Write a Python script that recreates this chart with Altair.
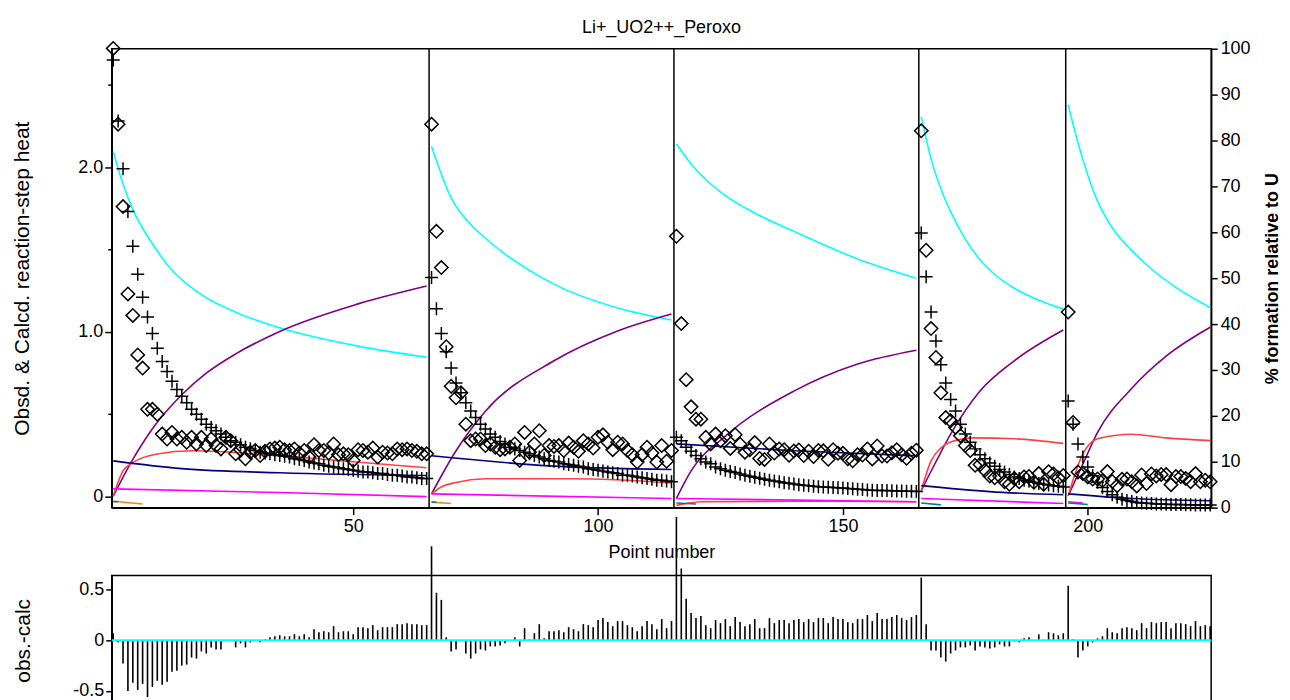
import altair as alt
import pandas as pd

FONT = "Liberation Sans"

chart_title = "Li+_UO2++_Peroxo"
x_title = "Point number"
left_title = "Obsd. & Calcd. reaction-step heat"
right_title = "% formation relative to U"
resid_title = "obs.-calc"

x_ticks = [50, 100, 150, 200]
heat_ticks = [0, 0.5, 1.0, 1.5, 2.0, 2.5]
pct_ticks = [0, 10, 20, 30, 40, 50, 60, 70, 80, 90, 100]
resid_ticks = [-0.5, 0, 0.5]

# first point of each injection series, and the boundaries drawn between them
seg_first = [1, 66, 116, 166, 196]
separators = [65.5, 115.5, 165.5, 195.5]

# ---- series 1 (points 1-65)
obs_1 = [2.72, 2.26, 1.76, 1.23, 1.10, 0.86, 0.78, 0.53, 0.53, 0.50,
         0.38, 0.35, 0.39, 0.35, 0.36, 0.33, 0.36, 0.32, 0.36, 0.31,
         0.35, 0.31, 0.29, 0.36, 0.34, 0.26, 0.285, 0.23, 0.27, 0.28,
         0.25, 0.275, 0.29, 0.295, 0.30, 0.285, 0.28, 0.29, 0.265, 0.28,
         0.24, 0.315, 0.28, 0.28, 0.265, 0.32, 0.255, 0.26, 0.255, 0.22,
         0.285, 0.28, 0.27, 0.295, 0.24, 0.27, 0.265, 0.26, 0.29, 0.285,
         0.29, 0.28, 0.275, 0.26, 0.26]
calc_1 = [2.65, 2.28, 1.99, 1.73, 1.52, 1.35, 1.21, 1.09, 0.99, 0.90,
          0.82, 0.76, 0.70, 0.65, 0.61, 0.57, 0.53, 0.50, 0.47, 0.44,
          0.42, 0.40, 0.38, 0.36, 0.34, 0.33, 0.315, 0.30, 0.29, 0.28,
          0.27, 0.265, 0.26, 0.255, 0.25, 0.245, 0.24, 0.23, 0.225, 0.22,
          0.21, 0.205, 0.20, 0.19, 0.185, 0.18, 0.175, 0.17, 0.165, 0.16,
          0.155, 0.15, 0.15, 0.145, 0.14, 0.14, 0.135, 0.13, 0.13, 0.125,
          0.12, 0.12, 0.115, 0.11, 0.11]
resid_1 = [0.07, -0.02, -0.23, -0.50, -0.42, -0.49, -0.43, -0.56, -0.46, -0.40,
           -0.44, -0.41, -0.31, -0.30, -0.25, -0.24, -0.17, -0.18, -0.11, -0.13,
           -0.07, -0.09, -0.09, 0.0, 0.0, -0.07, -0.03, -0.07, -0.02, 0.0,
           -0.02, 0.01, 0.03, 0.04, 0.05, 0.04, 0.04, 0.06, 0.04, 0.06,
           0.03, 0.11, 0.08, 0.09, 0.08, 0.14, 0.08, 0.09, 0.09, 0.06,
           0.13, 0.13, 0.12, 0.15, 0.10, 0.13, 0.13, 0.13, 0.16, 0.16,
           0.17, 0.16, 0.16, 0.15, 0.15]

# ---- series 2 (points 66-115)
obs_2 = [2.26, 1.61, 1.39, 0.91, 0.67, 0.60, 0.63, 0.44, 0.34, 0.35,
         0.35, 0.31, 0.32, 0.30, 0.285, 0.29, 0.30, 0.32, 0.22, 0.39,
         0.27, 0.32, 0.40, 0.25, 0.31, 0.305, 0.31, 0.28, 0.325, 0.30,
         0.275, 0.34, 0.32, 0.295, 0.36, 0.375, 0.33, 0.285, 0.33, 0.32,
         0.28, 0.255, 0.21, 0.255, 0.30, 0.265, 0.21, 0.31, 0.215, 0.28]
calc_2 = [1.33, 1.14, 0.99, 0.88, 0.78, 0.69, 0.63, 0.57, 0.52, 0.48,
          0.44, 0.41, 0.38, 0.36, 0.335, 0.32, 0.30, 0.29, 0.28, 0.27,
          0.26, 0.25, 0.24, 0.23, 0.22, 0.215, 0.21, 0.20, 0.195, 0.19,
          0.185, 0.18, 0.17, 0.165, 0.16, 0.155, 0.15, 0.145, 0.14, 0.13,
          0.13, 0.125, 0.12, 0.115, 0.11, 0.105, 0.10, 0.10, 0.095, 0.09]
resid_2 = [0.93, 0.47, 0.40, 0.03, -0.11, -0.09, 0.0, -0.13, -0.18, -0.13,
           -0.09, -0.10, -0.06, -0.06, -0.05, -0.03, 0.0, 0.03, -0.06, 0.12,
           0.01, 0.07, 0.16, 0.02, 0.09, 0.09, 0.10, 0.08, 0.13, 0.11,
           0.09, 0.16, 0.15, 0.13, 0.20, 0.22, 0.18, 0.14, 0.19, 0.19,
           0.15, 0.13, 0.09, 0.14, 0.19, 0.16, 0.11, 0.21, 0.12, 0.19]

# ---- series 3 (points 116-165)
obs_3 = [1.58, 1.05, 0.71, 0.545, 0.47, 0.47, 0.36, 0.32, 0.38, 0.34,
         0.37, 0.293, 0.376, 0.318, 0.27, 0.284, 0.328, 0.232, 0.226, 0.32,
         0.265, 0.29, 0.285, 0.251, 0.277, 0.283, 0.25, 0.276, 0.243, 0.28,
         0.278, 0.227, 0.285, 0.264, 0.263, 0.23, 0.218, 0.255, 0.253, 0.29,
         0.229, 0.308, 0.247, 0.247, 0.266, 0.285, 0.254, 0.233, 0.263, 0.282]
calc_3 = [0.36, 0.34, 0.30, 0.275, 0.25, 0.23, 0.21, 0.20, 0.18, 0.17,
          0.16, 0.153, 0.146, 0.138, 0.13, 0.124, 0.118, 0.112, 0.106, 0.10,
          0.095, 0.09, 0.085, 0.081, 0.077, 0.073, 0.07, 0.066, 0.063, 0.06,
          0.058, 0.057, 0.055, 0.054, 0.053, 0.05, 0.048, 0.045, 0.043, 0.04,
          0.039, 0.038, 0.037, 0.037, 0.036, 0.035, 0.034, 0.033, 0.033, 0.032]
resid_3 = [1.22, 0.71, 0.41, 0.27, 0.22, 0.24, 0.15, 0.12, 0.20, 0.17,
           0.21, 0.14, 0.23, 0.18, 0.14, 0.16, 0.21, 0.12, 0.12, 0.22,
           0.17, 0.20, 0.20, 0.17, 0.20, 0.21, 0.18, 0.21, 0.18, 0.22,
           0.22, 0.17, 0.23, 0.21, 0.21, 0.18, 0.17, 0.21, 0.21, 0.25,
           0.19, 0.27, 0.21, 0.21, 0.23, 0.25, 0.22, 0.20, 0.23, 0.25]

# ---- series 4 (points 166-195)
obs_4 = [2.22, 1.495, 1.02, 0.845, 0.63, 0.48, 0.46, 0.42, 0.37, 0.31,
         0.28, 0.19, 0.195, 0.16, 0.125, 0.115, 0.125, 0.09, 0.075, 0.11,
         0.09, 0.12, 0.123, 0.087, 0.14, 0.075, 0.151, 0.137, 0.113, 0.129]
calc_4 = [1.60, 1.335, 1.12, 0.945, 0.80, 0.69, 0.59, 0.52, 0.44, 0.38,
          0.33, 0.29, 0.255, 0.23, 0.205, 0.185, 0.165, 0.15, 0.135, 0.12,
          0.11, 0.10, 0.093, 0.087, 0.08, 0.075, 0.071, 0.067, 0.063, 0.059]
resid_4 = [0.62, 0.16, -0.10, -0.10, -0.17, -0.21, -0.13, -0.10, -0.07, -0.07,
           -0.05, -0.10, -0.06, -0.07, -0.08, -0.07, -0.04, -0.06, -0.06, -0.01,
           -0.02, 0.02, 0.03, 0.0, 0.06, 0.0, 0.08, 0.07, 0.05, 0.07]

# ---- series 5 (points 196-225)
obs_5 = [1.12, 0.45, 0.15, 0.14, 0.12, 0.107, 0.107, 0.096, 0.152, 0.092,
         0.066, 0.105, 0.107, 0.09, 0.065, 0.132, 0.08, 0.138, 0.126, 0.135,
         0.134, 0.073, 0.122, 0.122, 0.111, 0.091, 0.14, 0.09, 0.10, 0.09]
calc_5 = [0.58, 0.44, 0.32, 0.24, 0.18, 0.127, 0.087, 0.056, 0.032, 0.012,
          -0.004, -0.015, -0.023, -0.03, -0.035, -0.038, -0.04, -0.042, -0.044, -0.045,
          -0.046, -0.047, -0.048, -0.048, -0.049, -0.049, -0.05, -0.05, -0.05, -0.05]
resid_5 = [0.54, 0.01, -0.17, -0.10, -0.06, -0.02, 0.02, 0.04, 0.12, 0.08,
           0.07, 0.12, 0.13, 0.12, 0.10, 0.17, 0.12, 0.18, 0.17, 0.18,
           0.18, 0.12, 0.17, 0.17, 0.16, 0.14, 0.19, 0.14, 0.15, 0.14]

# ---- species distribution curves (% relative to U), read at selected points
cyan_pt = [1, 3, 5, 9, 12, 19, 26, 35, 51, 65,
           66, 70, 74, 77, 91, 104, 115,
           116, 119, 122, 126, 132, 140, 153, 165,
           166, 168, 170, 172, 175, 178, 181, 185, 190, 195,
           196, 198, 200, 202, 205, 209, 213, 218, 225]
cyan_pct = [77.6, 70.5, 65.0, 57.5, 53.0, 46.4, 42.6, 39.2, 35.2, 32.8,
            78.7, 67.5, 61.7, 58.7, 48.7, 43.5, 40.9,
            79.3, 74.9, 71.5, 68.0, 64.2, 60.2, 54.2, 50.0,
            85.2, 76.0, 69.5, 64.5, 58.5, 54.0, 50.8, 47.8, 45.2, 43.3,
            87.8, 79.5, 72.5, 66.8, 61.0, 56.0, 52.0, 48.0, 43.6]

purple_pt = [1, 5, 9, 15, 20, 26, 35, 51, 65,
             66, 71, 77, 91, 104, 115,
             116, 119, 126, 140, 153, 165,
             166, 169, 172, 178, 185, 195,
             196, 199, 202, 209, 216, 225]
purple_pct = [2.5, 10.5, 17.2, 24.6, 29.3, 33.5, 38.4, 44.4, 48.3,
              3.0, 12.4, 21.0, 32.0, 38.5, 42.2,
              2.0, 8.0, 15.6, 25.4, 31.3, 34.3,
              3.7, 10.0, 16.0, 25.4, 32.0, 38.7,
              2.6, 9.5, 16.4, 26.0, 33.0, 39.3]

red_pt = [1, 3, 5, 10, 17, 35, 50, 65,
          66, 68, 71, 77, 95, 115,
          116, 118, 121, 140, 165,
          166, 168, 170, 172, 177, 185, 195,
          196, 199, 202, 209, 216, 225]
red_pct = [2.5, 8.0, 9.8, 11.7, 12.4, 11.3, 10.0, 8.7,
           3.0, 4.5, 5.5, 6.3, 6.3, 5.4,
           0.5, 0.9, 1.3, 1.4, 1.3,
           3.7, 10.2, 13.0, 14.3, 15.2, 15.0, 14.0,
           2.6, 11.7, 15.0, 16.0, 15.2, 14.6]

navy_pt = [1, 15, 35, 65, 66, 90, 115, 116, 140, 165, 166, 180, 195, 196, 209, 225]
navy_pct = [10.2, 8.5, 7.6, 7.0, 11.3, 9.1, 8.3, 13.9, 12.4, 11.3, 4.8, 3.5, 2.8, 3.0, 2.0, 1.5]

magenta_pt = [1, 35, 65, 66, 115, 116, 165, 166, 195, 196, 199]
magenta_pct = [4.1, 3.3, 2.4, 3.0, 2.0, 2.0, 1.3, 2.0, 0.9, 1.3, 1.0]

orange_pt = [1, 7, 66, 70]
orange_pct = [1.4, 0.8, 1.2, 0.9]

teal_pt = [1, 2, 66, 67, 116, 120, 166, 170, 196, 200]
teal_pct = [1.3, 1.3, 1.2, 1.2, 1.0, 0.8, 1.0, 0.6, 1.0, 0.7]

species_names = ["cyan", "purple", "red", "navy", "magenta", "orange", "teal"]
species_colors = ["#00FFFF", "#800080", "#FF4040", "#000080", "#FF00FF", "#FF8000", "#008080"]

# ---------------- tables
obs = obs_1 + obs_2 + obs_3 + obs_4 + obs_5
calc = calc_1 + calc_2 + calc_3 + calc_4 + calc_5
resid = resid_1 + resid_2 + resid_3 + resid_4 + resid_5
pts = list(range(1, len(obs) + 1))
heat_df = pd.DataFrame({"pt": pts, "obs": obs, "calc": calc, "resid": resid})

curve_src = [(cyan_pt, cyan_pct), (purple_pt, purple_pct), (red_pt, red_pct),
             (navy_pt, navy_pct), (magenta_pt, magenta_pct), (orange_pt, orange_pct),
             (teal_pt, teal_pct)]
rows = []
for name, (p_list, v_list) in zip(species_names, curve_src):
    for p, v in zip(p_list, v_list):
        seg = sum(1 for f in seg_first if p >= f)
        rows.append({"species": name, "seg": seg, "pt": p, "pct": v})
curve_df = pd.DataFrame(rows)
sep_df = pd.DataFrame({"x": separators})
zero_df = pd.DataFrame({"y": [0]})

# ---------------- scales / axes
W = 1102
H_TOP = 460
H_BOT = 130

xs = alt.Scale(domain=[0.7, 225.2], nice=False, zero=False)
ys_heat = alt.Scale(domain=[-0.0666, 2.718], nice=False, zero=False)
ys_pct = alt.Scale(domain=[0, 100], nice=False, zero=False)
ys_res = alt.Scale(domain=[-0.641, 0.641], nice=False, zero=False)

x_axis_top = alt.Axis(values=x_ticks, format="d", title=x_title, tickSize=7,
                      labelPadding=3, titleFontSize=18, titleY=45,
                      titleBaseline="middle", grid=False)

left_axis = alt.Axis(
    values=heat_ticks,
    labelExpr="datum.value % 1 != 0 ? '' : (datum.value == 0 ? '0' : format(datum.value, '.1f'))",
    tickSize={"condition": {"test": "datum.value % 1 == 0", "value": 7}, "value": 4},
    labelPadding=2, title=left_title, titleFontSize=21, titleAngle=270,
    titleX=-89, titleBaseline="middle", grid=False)

right_axis = alt.Axis(orient="right", values=pct_ticks, format="d", tickSize=6,
                      labelPadding=3, title=right_title, titleFontWeight="bold",
                      titleFontSize=18, titleAngle=270, titleX=61,
                      titleBaseline="middle", grid=False)

resid_axis = alt.Axis(
    values=resid_ticks,
    labelExpr="datum.value == 0 ? '0' : (datum.value < 0 ? '-' + format(-datum.value, '.1f') : format(datum.value, '.1f'))",
    tickSize=6, labelPadding=2, title=resid_title, titleFontSize=21,
    titleAngle=270, titleX=-88.5, titleBaseline="middle", grid=False)

PLUS = "M-1,0L1,0M0,-1L0,1"

curves = alt.Chart(curve_df).mark_line(strokeWidth=1.6, interpolate="monotone").encode(
    x=alt.X("pt:Q", scale=xs, axis=x_axis_top),
    y=alt.Y("pct:Q", scale=ys_pct, axis=right_axis),
    color=alt.Color("species:N", scale=alt.Scale(domain=species_names, range=species_colors), legend=None),
    detail="seg:N",
)

seps = alt.Chart(sep_df).mark_rule(color="black", strokeWidth=1.5).encode(
    x=alt.X("x:Q", scale=xs, axis=x_axis_top),
)

plus = alt.Chart(heat_df).mark_point(shape=PLUS, size=170, filled=False, color="black",
                                     strokeWidth=1.5, opacity=1).encode(
    x=alt.X("pt:Q", scale=xs, axis=x_axis_top),
    y=alt.Y("calc:Q", scale=ys_heat, axis=left_axis),
)
diam = alt.Chart(heat_df).mark_point(shape="diamond", size=180, filled=False, color="black",
                                     strokeWidth=1.5, opacity=1).encode(
    x=alt.X("pt:Q", scale=xs, axis=x_axis_top),
    y=alt.Y("obs:Q", scale=ys_heat, axis=left_axis),
)
points = alt.layer(plus, diam)

top = alt.layer(curves, seps, points).resolve_scale(y="independent").properties(
    width=W, height=H_TOP,
    title=alt.TitleParams(chart_title, font=FONT, fontSize=18, fontWeight="normal",
                          anchor="middle", frame="group", baseline="alphabetic",
                          offset=-12, color="black"),
)

bars = alt.Chart(heat_df).mark_rule(color="black", strokeWidth=1.6).encode(
    x=alt.X("pt:Q", scale=xs, axis=None),
    y=alt.Y("resid:Q", scale=ys_res, axis=resid_axis),
    y2=alt.datum(0),
)
zero_line = alt.Chart(zero_df).mark_rule(color="#00FFFF", strokeWidth=2).encode(
    y=alt.Y("y:Q", scale=ys_res, axis=resid_axis),
)
bottom = alt.layer(bars, zero_line).properties(width=W, height=H_BOT)

chart = alt.vconcat(top, bottom, spacing=68, bounds="flush").properties(
    padding={"left": 3, "top": 9, "right": 0, "bottom": 0},
).configure_view(
    stroke="black", strokeWidth=1.5,
).configure_axis(
    labelFont=FONT, titleFont=FONT, labelFontSize=18, labelColor="black",
    titleColor="black", titleFontWeight="normal", domainColor="black",
    tickColor="black", domainWidth=1.5, tickWidth=1.5, grid=False,
)

chart.save("out.html", embed_options={"renderer": "svg", "actions": False})
